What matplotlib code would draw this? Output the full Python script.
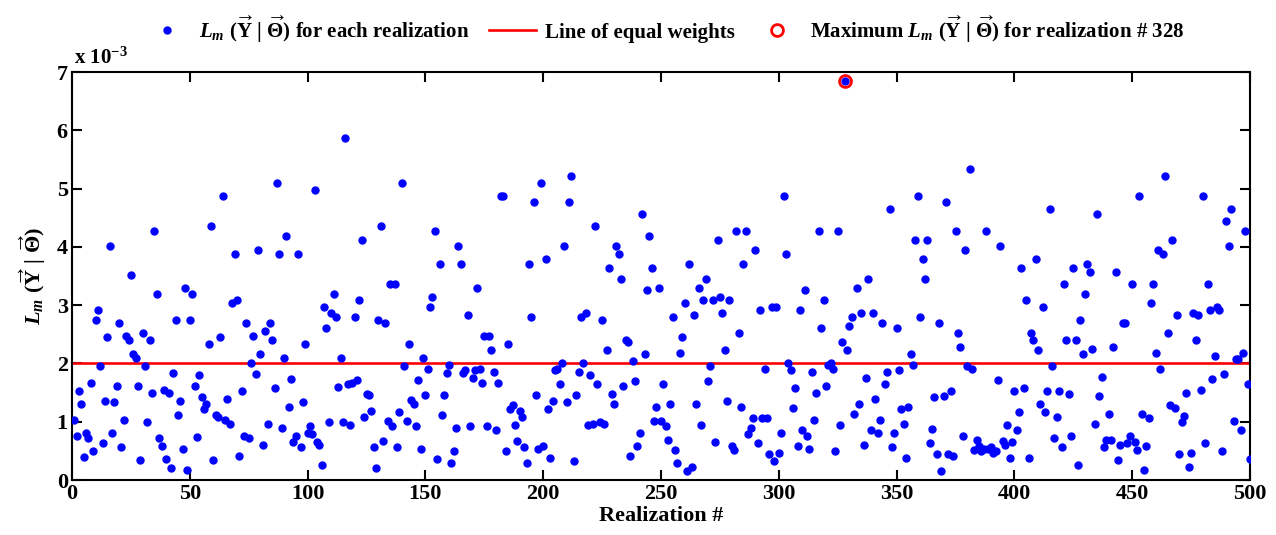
import numpy as np
import matplotlib
matplotlib.use("Agg")
import matplotlib.pyplot as plt
from matplotlib.lines import Line2D

plt.rcParams['font.family'] = ['Liberation Serif', 'DejaVu Serif']
plt.rcParams['font.weight'] = 'bold'
plt.rcParams['mathtext.fontset'] = 'custom'
plt.rcParams['mathtext.rm'] = 'Liberation Serif:bold'
plt.rcParams['mathtext.it'] = 'Liberation Serif:italic:bold'
plt.rcParams['mathtext.bf'] = 'Liberation Serif:bold'

# Likelihood L_m for each realization, in units of 1e-3 (realizations 1..500)
likelihood_e3 = [
    # 1-61
    1.03, 0.76, 1.53, 1.30, 0.40, 0.81, 0.72, 1.66, 0.49, 2.74,
    2.92, 1.95, 0.63, 1.35, 2.45, 4.02, 0.81, 1.33, 1.62, 2.70,
    0.56, 1.03, 2.47, 2.40, 3.51, 2.16, 2.09, 1.62, 0.34, 2.52,
    1.95, 0.99, 2.40, 1.50, 4.27, 3.19, 0.72, 0.59, 1.55, 0.36,
    1.50, 0.20, 1.84, 2.74, 1.12, 1.35, 0.54, 3.30, 0.18, 2.74,
    3.19, 1.62, 0.74, 1.80, 1.42, 1.21, 1.30, 2.34, 4.36, 0.34,
    1.12,
    # 62-123
    1.08, 2.45, 4.88, 1.03, 1.39, 0.96, 3.03, 3.87, 3.08, 0.42,
    1.53, 0.76, 2.70, 0.72, 2.00, 2.47, 1.82, 3.94, 2.16, 0.60,
    2.56, 0.96, 2.70, 2.40, 1.57, 5.10, 3.87, 0.90, 2.09, 4.18,
    1.26, 1.73, 0.65, 0.76, 3.87, 0.56, 1.33, 2.34, 0.81,
    0.92, 0.79, 4.97, 0.65, 0.60, 0.25, 2.97, 2.60, 0.99, 2.87,
    3.19, 2.79, 1.59, 2.09, 0.99, 5.87, 1.64, 0.94, 1.66, 2.79,
    1.71, 3.08, 4.11,
    # 124-190
    1.08, 1.48, 1.46, 1.19, 0.56, 0.20, 2.74, 4.36, 0.67, 2.70,
    1.01, 3.37, 0.92, 3.37, 0.56, 1.16, 5.10, 1.95, 1.01, 2.34,
    1.37, 1.30, 0.92, 1.71, 0.54, 2.09, 1.46, 1.91, 2.97, 3.14,
    4.27, 0.36, 3.71, 1.12, 1.46, 1.84, 1.97, 0.29, 0.49, 0.90,
    4.02, 3.71, 1.84, 1.89, 2.83, 0.92, 1.75, 1.89, 3.30, 1.91,
    1.66, 2.47, 0.92, 2.47, 2.23, 1.86, 0.85, 1.66, 4.88, 4.88,
    0.49, 2.34, 1.21, 1.28, 0.94, 0.67, 1.19,
    # 191-249
    1.08, 0.56, 0.29, 3.71, 2.79, 4.77, 1.46, 0.54, 5.10, 0.59,
    3.80, 1.21, 0.38, 1.35, 1.89, 1.91, 1.64, 2.00, 4.02, 1.33,
    4.77, 5.22, 0.32, 1.46, 1.86, 2.79, 2.00, 2.87, 0.94, 1.80,
    0.96, 4.36, 1.64, 0.99, 2.74, 0.96, 2.23, 3.64, 1.48, 1.30,
    4.02, 3.87, 3.44, 1.62, 2.40, 2.36, 0.42, 2.04, 1.69, 0.59,
    0.81, 4.56, 2.16, 3.26, 4.18, 3.64, 1.01, 1.26, 3.30,
    # 250-319
    1.01, 1.64, 0.92, 0.69, 1.30, 2.79, 0.52, 0.29, 2.18, 2.45,
    3.03, 0.15, 3.71, 0.22, 2.83, 1.30, 3.30, 0.94, 3.08, 3.44,
    1.69, 1.95, 3.08, 0.65, 4.11, 3.14, 2.87, 2.23, 1.35, 3.08,
    0.59, 0.52, 4.27, 2.52, 1.26, 3.71, 4.27, 0.79, 0.90, 1.06,
    3.94, 0.63, 2.92, 1.06, 1.91, 1.06, 0.45, 2.97, 0.32, 2.97,
    0.47, 0.81, 4.88, 3.87, 2.00, 1.89, 1.23, 1.57, 0.59, 2.92,
    0.85, 3.26, 0.76, 0.54, 1.86, 1.03, 1.50, 4.27, 2.60, 3.08,
    # 320-382
    1.62, 1.97, 2.00, 1.91, 0.49, 4.27, 0.94, 2.36, 6.84, 2.23,
    2.65, 2.79, 1.14, 3.30, 1.30, 2.87, 0.60, 1.75, 3.44, 0.85,
    2.87, 1.39, 0.81, 1.03, 2.70, 1.64, 1.86, 4.65, 0.56, 0.81,
    2.60, 1.89, 1.21, 0.96, 0.38, 1.26, 2.16, 1.97, 4.11, 4.88,
    2.79, 3.80, 3.44, 4.11, 0.63, 0.87, 1.42, 0.45, 2.70, 0.15,
    1.44, 4.77, 0.45, 1.53, 0.42, 4.27, 2.52, 2.29, 0.76, 3.94,
    1.95, 5.33, 1.91,
    # 383-447
    0.52, 0.69, 0.59, 0.49, 0.54, 4.27, 0.54, 0.56, 0.47, 0.49,
    1.71, 4.02, 0.67, 0.60, 0.94, 0.38, 0.65, 1.53, 0.85,
    1.16, 3.64, 1.57, 3.08, 0.38, 2.52, 2.40, 3.80, 2.23, 1.30,
    2.97, 1.16, 1.53, 4.65, 1.95, 0.72, 1.08, 1.53, 0.56, 3.37,
    2.40, 1.48, 0.76, 3.64, 2.40, 0.25, 2.74, 2.16, 3.19, 3.71,
    3.57, 2.25, 0.96, 4.56, 1.44, 1.77, 0.56, 0.69, 1.14, 0.69,
    2.29, 3.57, 0.34, 0.60, 2.70, 2.70,
    # 448-500
    0.63, 0.76, 3.37, 0.65, 0.52, 4.88, 1.14, 0.18, 0.59, 1.06,
    3.03, 3.37, 2.18, 3.94, 1.91, 3.87, 5.22, 2.52, 1.28, 4.11,
    1.23, 2.83, 0.45, 0.99, 1.10, 1.50, 0.22, 0.47, 2.87, 2.40,
    2.83, 1.55, 4.88, 0.63, 3.37, 2.92, 1.73, 2.13, 2.97, 2.92,
    0.49, 1.82, 4.45, 4.02, 4.65, 1.01, 2.07, 2.07, 0.85, 2.18,
    4.27, 1.64, 0.36,
]
realization = list(range(1, len(likelihood_e3) + 1))
equal_weight_e3 = 2.0          # 1/500 = 2e-3
x_range = [0, 500]
max_index = 328

fig = plt.figure(figsize=(12.76, 5.35), dpi=100)
ax = fig.add_axes([72 / 1276, 1 - 480 / 535, (1250 - 72) / 1276, (480 - 72) / 535])

ax.plot(realization, likelihood_e3, linestyle='none', marker='o', markersize=5,
        color='#0000ff', zorder=3)
ax.plot(x_range, [equal_weight_e3, equal_weight_e3], color='#ff0000', lw=1.9, zorder=2)
ax.plot([realization[max_index - 1]], [likelihood_e3[max_index - 1]], linestyle='none',
        marker='o', markersize=8.5, markerfacecolor='none', markeredgecolor='#ff0000',
        markeredgewidth=2.0, zorder=4)

ax.set_xlim(0, 500)
ax.set_ylim(0, 7)
ax.set_xticks(np.arange(0, 501, 50))
ax.set_yticks(np.arange(0, 8, 1))
ax.tick_params(direction='in', length=7, width=1.5, top=True, right=True,
               labelsize=16, pad=3)
for lab in ax.get_xticklabels() + ax.get_yticklabels():
    lab.set_fontweight('bold')
for s in ax.spines.values():
    s.set_linewidth(1.5)

ax.text(0.002, 1.008, r'x 10$^{-3}$', transform=ax.transAxes, ha='left', va='bottom',
        fontsize=15, fontweight='bold')
ax.set_xlabel('Realization #', fontsize=16, fontweight='bold', labelpad=1)
ax.set_ylabel(r'$L_m\ (\overrightarrow{\mathrm{Y}}\ |\ \overrightarrow{\Theta})$',
              fontsize=16, labelpad=6)

handles = [
    Line2D([], [], linestyle='none', marker='o', markersize=5, color='#0000ff'),
    Line2D([], [], color='#ff0000', lw=1.9),
    Line2D([], [], linestyle='none', marker='o', markersize=8.5, markerfacecolor='none',
           markeredgecolor='#ff0000', markeredgewidth=2.0),
]
labels = [
    r'$L_m\ (\overrightarrow{\mathrm{Y}}\ |\ \overrightarrow{\Theta})$ for each realization',
    'Line of equal weights',
    r'Maximum $L_m\ (\overrightarrow{\mathrm{Y}}\ |\ \overrightarrow{\Theta})$ for realization # 328',
]
fig.legend(handles, labels, loc='center', bbox_to_anchor=(0.52, 0.945), ncol=3,
           frameon=False, handlelength=2.3, columnspacing=0.9,
           handletextpad=0.4, prop={'weight': 'bold', 'size': 15})

fig.savefig('out.png', dpi=100)
